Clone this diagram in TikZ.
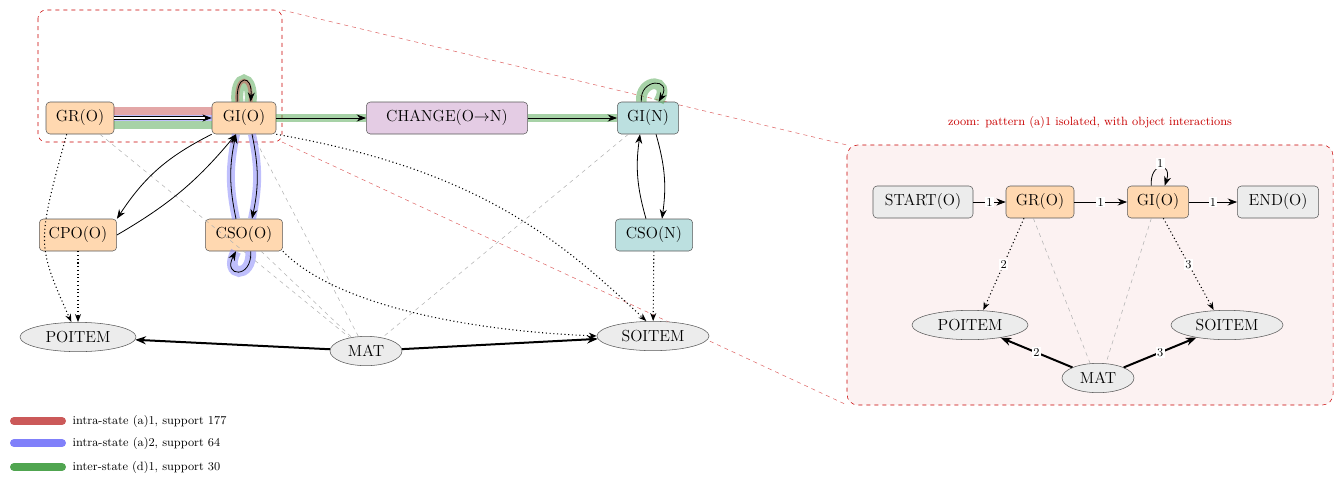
\documentclass[tikz,border=0pt]{standalone}
\usepackage{fontspec}
\setmainfont{TeX Gyre Heros}
\usetikzlibrary{arrows.meta,shapes.geometric}
\setmainfont{Latin Modern Roman}
\definecolor{ostate}{RGB}{255,216,176}
\definecolor{chg}{RGB}{228,204,228}
\definecolor{nstate}{RGB}{188,224,224}
\definecolor{obj}{RGB}{236,236,236}
\definecolor{hred}{RGB}{200,80,80}
\definecolor{hblue}{RGB}{128,128,250}
\definecolor{hgreen}{RGB}{80,165,80}
\definecolor{zred}{RGB}{200,0,0}
\begin{document}
\begin{tikzpicture}[x=0.75pt,y=-0.75pt,
  st/.style={draw=black!65,rounded corners=3pt,minimum height=24pt,inner xsep=3pt,font=\fontsize{12}{14}\selectfont},
  ob/.style={draw=black!65,ellipse,fill=obj,minimum height=22pt,inner xsep=2pt,font=\fontsize{12}{14}\selectfont},
  ar/.style={-{Stealth[length=7pt]},semithick},
  dt/.style={-{Stealth[length=6pt]},thick,dotted},
  th/.style={-{Stealth[length=8pt]},line width=1.5pt},
  gd/.style={dashed,black!30},
  hl/.style={line width=6pt,opacity=0.5},
  lab/.style={fill=white,inner sep=1pt,font=\fontsize{9}{10}\selectfont}]
\useasboundingbox (0,0) rectangle (1342,483);
% zoom frame and connectors
\draw[zred,dashed,rounded corners=6pt] (38,10) rectangle (282,142);
\draw[zred!60,dashed] (282,10) -- (847,145);
\draw[zred!60,dashed] (282,142) -- (847,405);
\draw[zred,dashed,fill=zred!5,rounded corners=8pt] (847,145) rectangle (1333,405);
\node[zred,font=\fontsize{9}{10}\selectfont] (title) at (1090,122) {zoom: pattern (a)1 isolated, with object interactions};
% main nodes
\node[st,fill=ostate,minimum width=51pt] (gro) at (80,118) {GR(O)};
\node[st,fill=ostate,minimum width=48pt] (gio) at (244,118) {GI(O)};
\node[st,fill=chg,minimum width=121pt] (chg) at (447,118) {CHANGE(O$\rightarrow$N)};
\node[st,fill=nstate,minimum width=46pt] (gin) at (648,118) {GI(N)};
\node[st,fill=ostate,minimum width=58pt] (cpo) at (78,235) {CPO(O)};
\node[st,fill=ostate,minimum width=58pt] (cso) at (244,235) {CSO(O)};
\node[st,fill=nstate,minimum width=58pt] (csn) at (654,235) {CSO(N)};
\node[ob,minimum width=87pt] (poi) at (78,337) {POITEM};
\node[ob,minimum width=54pt] (mat) at (366,351) {MAT};
\node[ob,minimum width=84pt] (soi) at (653,336) {SOITEM};
% gray dashed
\draw[gd] (gro) -- (mat);
\draw[gd] (gio) -- (mat);
\draw[gd] (cso) -- (mat);
\draw[gd] (gin) -- (mat);
% highlights
\draw[hl,hred] ([yshift=5.5pt]gro.east) -- ([yshift=5.5pt]gio.west);
\draw[hl,hblue,line width=4pt] (gro.east) -- (gio.west);
\draw[hl,hgreen] ([yshift=-5.5pt]gro.east) -- ([yshift=-5.5pt]gio.west);
\draw[hl,hgreen] (gio.east) -- (chg.west);
\draw[hl,hgreen] (chg.east) -- (gin.west);
\draw[hl,hgreen,line width=9pt] ([xshift=-5pt]gio.north) .. controls +(-2,-28) and +(2,-28) .. ([xshift=5pt]gio.north);
\draw[hl,hred,line width=3pt] ([xshift=-5pt]gio.north) .. controls +(-2,-28) and +(2,-28) .. ([xshift=5pt]gio.north);
\draw[hl,hgreen,line width=8pt] ([xshift=-5pt]gin.north) .. controls +(-2,-24) and +(14,-24) .. ([xshift=8pt]gin.north);
\draw[hl,hblue] ([xshift=6pt]gio.south) to[bend left=12] ([xshift=6pt]cso.north);
\draw[hl,hblue] ([xshift=-6pt]cso.north) to[bend left=12] ([xshift=-6pt]gio.south);
\draw[hl,hblue,line width=8pt] ([xshift=5pt]cso.south) .. controls +(2,28) and +(-14,26) .. ([xshift=-6pt]cso.south);
% edges
\draw[ar,double,double distance=1.5pt,-{Stealth[length=7pt]}] (gro) -- (gio);
\draw[ar] ([xshift=-5pt]gio.north) .. controls +(-2,-28) and +(2,-28) .. ([xshift=5pt]gio.north);
\draw[ar] (gio.south west) to[bend right=15] (cpo.north east);
\draw[ar] (cpo.east) to[bend right=10] ([xshift=-6pt]gio.south);
\draw[ar] ([xshift=6pt]gio.south) to[bend left=12] ([xshift=6pt]cso.north);
\draw[ar] ([xshift=-6pt]cso.north) to[bend left=12] ([xshift=-6pt]gio.south);
\draw[ar] ([xshift=5pt]cso.south) .. controls +(2,28) and +(-14,26) .. ([xshift=-6pt]cso.south);
\draw[ar] (gio) -- (chg);
\draw[ar] (chg) -- (gin);
\draw[ar] ([xshift=-5pt]gin.north) .. controls +(-2,-24) and +(14,-24) .. ([xshift=8pt]gin.north);
\draw[ar] ([xshift=6pt]gin.south) to[bend left=12] ([xshift=6pt]csn.north);
\draw[ar] ([xshift=-6pt]csn.north) to[bend left=12] ([xshift=-6pt]gin.south);
\draw[dt] ([xshift=-10pt]gro.south) .. controls +(-30,110) .. ([xshift=-5pt]poi.north);
\draw[dt] ([xshift=0pt]cpo.south) -- ([xshift=0pt]poi.north);
\draw[dt] (gio.south east) .. controls (480,170) and (560,240) .. ([xshift=-5pt]soi.north);
\draw[dt] (cso.south east) .. controls (330,300) and (450,330) .. (soi.west);
\draw[dt] (csn) -- (soi);
\draw[th] (mat) -- (poi);
\draw[th] (mat) -- (soi);
% zoom panel
\node[st,fill=obj,minimum width=75pt] (zs) at (923,202) {START(O)};
\node[st,fill=ostate,minimum width=51pt] (zgr) at (1040,202) {GR(O)};
\node[st,fill=ostate,minimum width=46pt] (zgi) at (1158,202) {GI(O)};
\node[st,fill=obj,minimum width=61pt] (ze) at (1278,202) {END(O)};
\node[ob,minimum width=87pt] (zpo) at (970,325) {POITEM};
\node[ob,minimum width=84pt] (zso) at (1227,325) {SOITEM};
\node[ob,minimum width=54pt] (zm) at (1098,378) {MAT};
\draw[gd] ([xshift=-5pt]zgr.south) -- ([xshift=-6pt]zm.north);
\draw[gd] ([xshift=-5pt]zgi.south) -- ([xshift=6pt]zm.north);
\draw[ar] (zs) -- node[lab]{1} (zgr);
\draw[ar] (zgr) -- node[lab]{1} (zgi);
\draw[ar] (zgi) -- node[lab]{1} (ze);
\draw[ar] ([xshift=-5pt]zgi.north) .. controls +(-2,-24) and +(8,-24) .. node[lab,pos=0.5,yshift=3pt]{1} ([xshift=5pt]zgi.north);
\draw[dt] ([xshift=-12pt]zgr.south) -- node[lab]{2} ([xshift=10pt]zpo.north);
\draw[dt] ([xshift=4pt]zgi.south) -- node[lab]{3} ([xshift=-10pt]zso.north);
\draw[th] (zm) -- node[lab]{2} (zpo);
\draw[th] (zm) -- node[lab]{3} (zso);
% legend
\draw[line width=6pt,hred!95,line cap=round] (14,421) -- (62,421);
\draw[line width=6pt,hblue,line cap=round] (14,443) -- (62,443);
\draw[line width=6pt,hgreen,line cap=round] (14,467) -- (62,467);
\node[anchor=west,font=\fontsize{9}{10}\selectfont] (l1) at (68,421) {intra-state (a)1, support 177};
\node[anchor=west,font=\fontsize{9}{10}\selectfont] (l2) at (68,443) {intra-state (a)2, support 64};
\node[anchor=west,font=\fontsize{9}{10}\selectfont] (l3) at (68,467) {inter-state (d)1, support 30};
\end{tikzpicture}
\end{document}
